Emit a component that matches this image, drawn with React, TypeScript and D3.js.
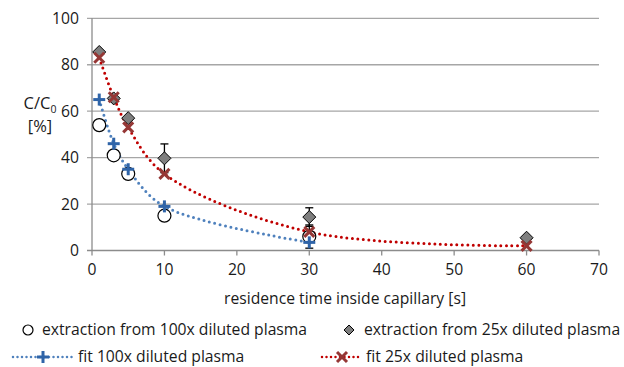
import React from "react";
import * as d3 from "d3";

const xTicks = [0, 10, 20, 30, 40, 50, 60, 70];
const yTicks = [0, 20, 40, 60, 80, 100];

const times100 = [1, 3, 5, 10, 30];
const extract100 = [54, 41, 33, 15, 6];
const extract100Err = [0, 0, 0, 0, 5];

const times25 = [1, 3, 5, 10, 30, 60];
const extract25 = [85.5, 65.5, 57, 39.7, 14.4, 5.5];
const extract25Err = [0, 0, 0, 6.2, 4, 0];

const fit100 = [65, 46, 35, 19, 3.5];
const fit25 = [83, 66, 53, 33, 8, 2];

const W = 624;
const H = 367;
const FONT = "'Open Sans', 'Liberation Sans', Arial, sans-serif";
const FS = 15.7;

export default function App() {
  const x = d3.scaleLinear().domain([0, 70]).range([92, 599]);
  const y = d3.scaleLinear().domain([0, 100]).range([250.5, 18.3]);

  const line = d3
    .line<[number, number]>()
    .x((d) => x(d[0]))
    .y((d) => y(d[1]))
    .curve(d3.curveCatmullRom.alpha(0.5));

  const fit100Pts = times100.map((t, i) => [t, fit100[i]] as [number, number]);
  const fit25Pts = times25.map((t, i) => [t, fit25[i]] as [number, number]);

  const blue = "#4F81BD";
  const blueMark = "#2F64A8";
  const red = "#C00000";
  const redMark = "#953735";

  const plus = (cx: number, cy: number, key: string, s = 6) => (
    <g key={key} stroke={blueMark} strokeWidth={3}>
      <line x1={cx - s} x2={cx + s} y1={cy} y2={cy} />
      <line x1={cx} x2={cx} y1={cy - s} y2={cy + s} />
    </g>
  );
  const cross = (cx: number, cy: number, key: string, s = 5) => (
    <g key={key} stroke={redMark} strokeWidth={3}>
      <line x1={cx - s} x2={cx + s} y1={cy - s} y2={cy + s} />
      <line x1={cx - s} x2={cx + s} y1={cy + s} y2={cy - s} />
    </g>
  );
  const diamond = (cx: number, cy: number, key: string, s = 6.5) => (
    <path
      key={key}
      d={`M${cx},${cy - s}L${cx + s},${cy}L${cx},${cy + s}L${cx - s},${cy}Z`}
      fill="#7F7F7F"
      stroke="#000"
      strokeWidth={1}
    />
  );
  const errBar = (cx: number, v: number, e: number, key: string) =>
    e > 0 ? (
      <g key={key} stroke="#000" strokeWidth={1.3}>
        <line x1={cx} x2={cx} y1={y(v - e)} y2={y(v + e)} />
        <line x1={cx - 4} x2={cx + 4} y1={y(v + e)} y2={y(v + e)} />
        <line x1={cx - 4} x2={cx + 4} y1={y(v - e)} y2={y(v - e)} />
      </g>
    ) : null;

  return (
    <svg
      width={W}
      height={H}
      style={{ position: "absolute", left: 0, top: 0, background: "#fff" }}
      fontFamily={FONT}
    >
      {/* gridlines */}
      {yTicks.map((t) => (
        <line
          key={"g" + t}
          x1={87}
          x2={599}
          y1={y(t)}
          y2={y(t)}
          stroke={t === 0 ? "#8C8C8C" : "#A6A6A6"}
          strokeWidth={1.3}
        />
      ))}
      <line x1={92} x2={92} y1={y(100)} y2={y(0)} stroke="#8C8C8C" strokeWidth={1.3} />
      {xTicks.map((t) => (
        <line key={"xt" + t} x1={x(t)} x2={x(t)} y1={y(0)} y2={y(0) + 5} stroke="#8C8C8C" strokeWidth={1.3} />
      ))}
      {yTicks.map((t) => (
        <text key={"yl" + t} x={79} y={y(t)} dy="0.35em" textAnchor="end" fontSize={FS} fill="#1a1a1a">
          {t}
        </text>
      ))}
      {xTicks.map((t) => (
        <text key={"xl" + t} x={x(t)} y={275} textAnchor="middle" fontSize={FS} fill="#1a1a1a">
          {t}
        </text>
      ))}
      <text x={40} y={109} textAnchor="middle" fontSize={16.5} fill="#1a1a1a">
        C/C<tspan fontSize={10.5} dy={4}>0</tspan>
      </text>
      <text x={40} y={132} textAnchor="middle" fontSize={16.5} fill="#1a1a1a">
        [%]
      </text>
      <text x={345} y={304} textAnchor="middle" fontSize={FS} fill="#1a1a1a">
        residence time inside capillary [s]
      </text>

      {/* fits */}
      <path d={line(fit100Pts) || ""} fill="none" stroke={blue} strokeWidth={3} strokeDasharray="0 5.5" strokeLinecap="round" />
      <path d={line(fit25Pts) || ""} fill="none" stroke={red} strokeWidth={3} strokeDasharray="0 5.5" strokeLinecap="round" />

      {/* error bars */}
      {times100.map((t, i) => errBar(x(t), extract100[i], extract100Err[i], "e1" + i))}
      {times25.map((t, i) => errBar(x(t), extract25[i], extract25Err[i], "e2" + i))}

      {/* extraction 100x circles */}
      {times100.map((t, i) => (
        <circle key={"c" + i} cx={x(t)} cy={y(extract100[i])} r={6.5} fill="#fff" stroke="#000" strokeWidth={1.2} />
      ))}
      {/* extraction 25x diamonds */}
      {times25.map((t, i) => diamond(x(t), y(extract25[i]), "d" + i))}
      {/* fit markers */}
      {times100.map((t, i) => plus(x(t), y(fit100[i]), "p" + i))}
      {times25.map((t, i) => cross(x(t), y(fit25[i]), "x" + i))}

      {/* legend */}
      <circle cx={28} cy={330} r={5} fill="#fff" stroke="#000" strokeWidth={1.2} />
      <text x={42} y={335} fontSize={FS} fill="#1a1a1a">extraction from 100x diluted plasma</text>
      {diamond(349, 330, "ld", 5)}
      <text x={364} y={335} fontSize={FS} fill="#1a1a1a">extraction from 25x diluted plasma</text>

      <line x1={13} x2={73} y1={357} y2={357} stroke={blue} strokeWidth={2.5} strokeDasharray="0 4.5" strokeLinecap="round" />
      {plus(43, 357, "lp", 6)}
      <text x={78} y={362} fontSize={FS} fill="#1a1a1a">fit 100x diluted plasma</text>
      <line x1={322} x2={362} y1={357} y2={357} stroke={red} strokeWidth={2.5} strokeDasharray="0 4.5" strokeLinecap="round" />
      {cross(342, 357, "lx", 5)}
      <text x={366} y={362} fontSize={FS} fill="#1a1a1a">fit 25x diluted plasma</text>
    </svg>
  );
}
